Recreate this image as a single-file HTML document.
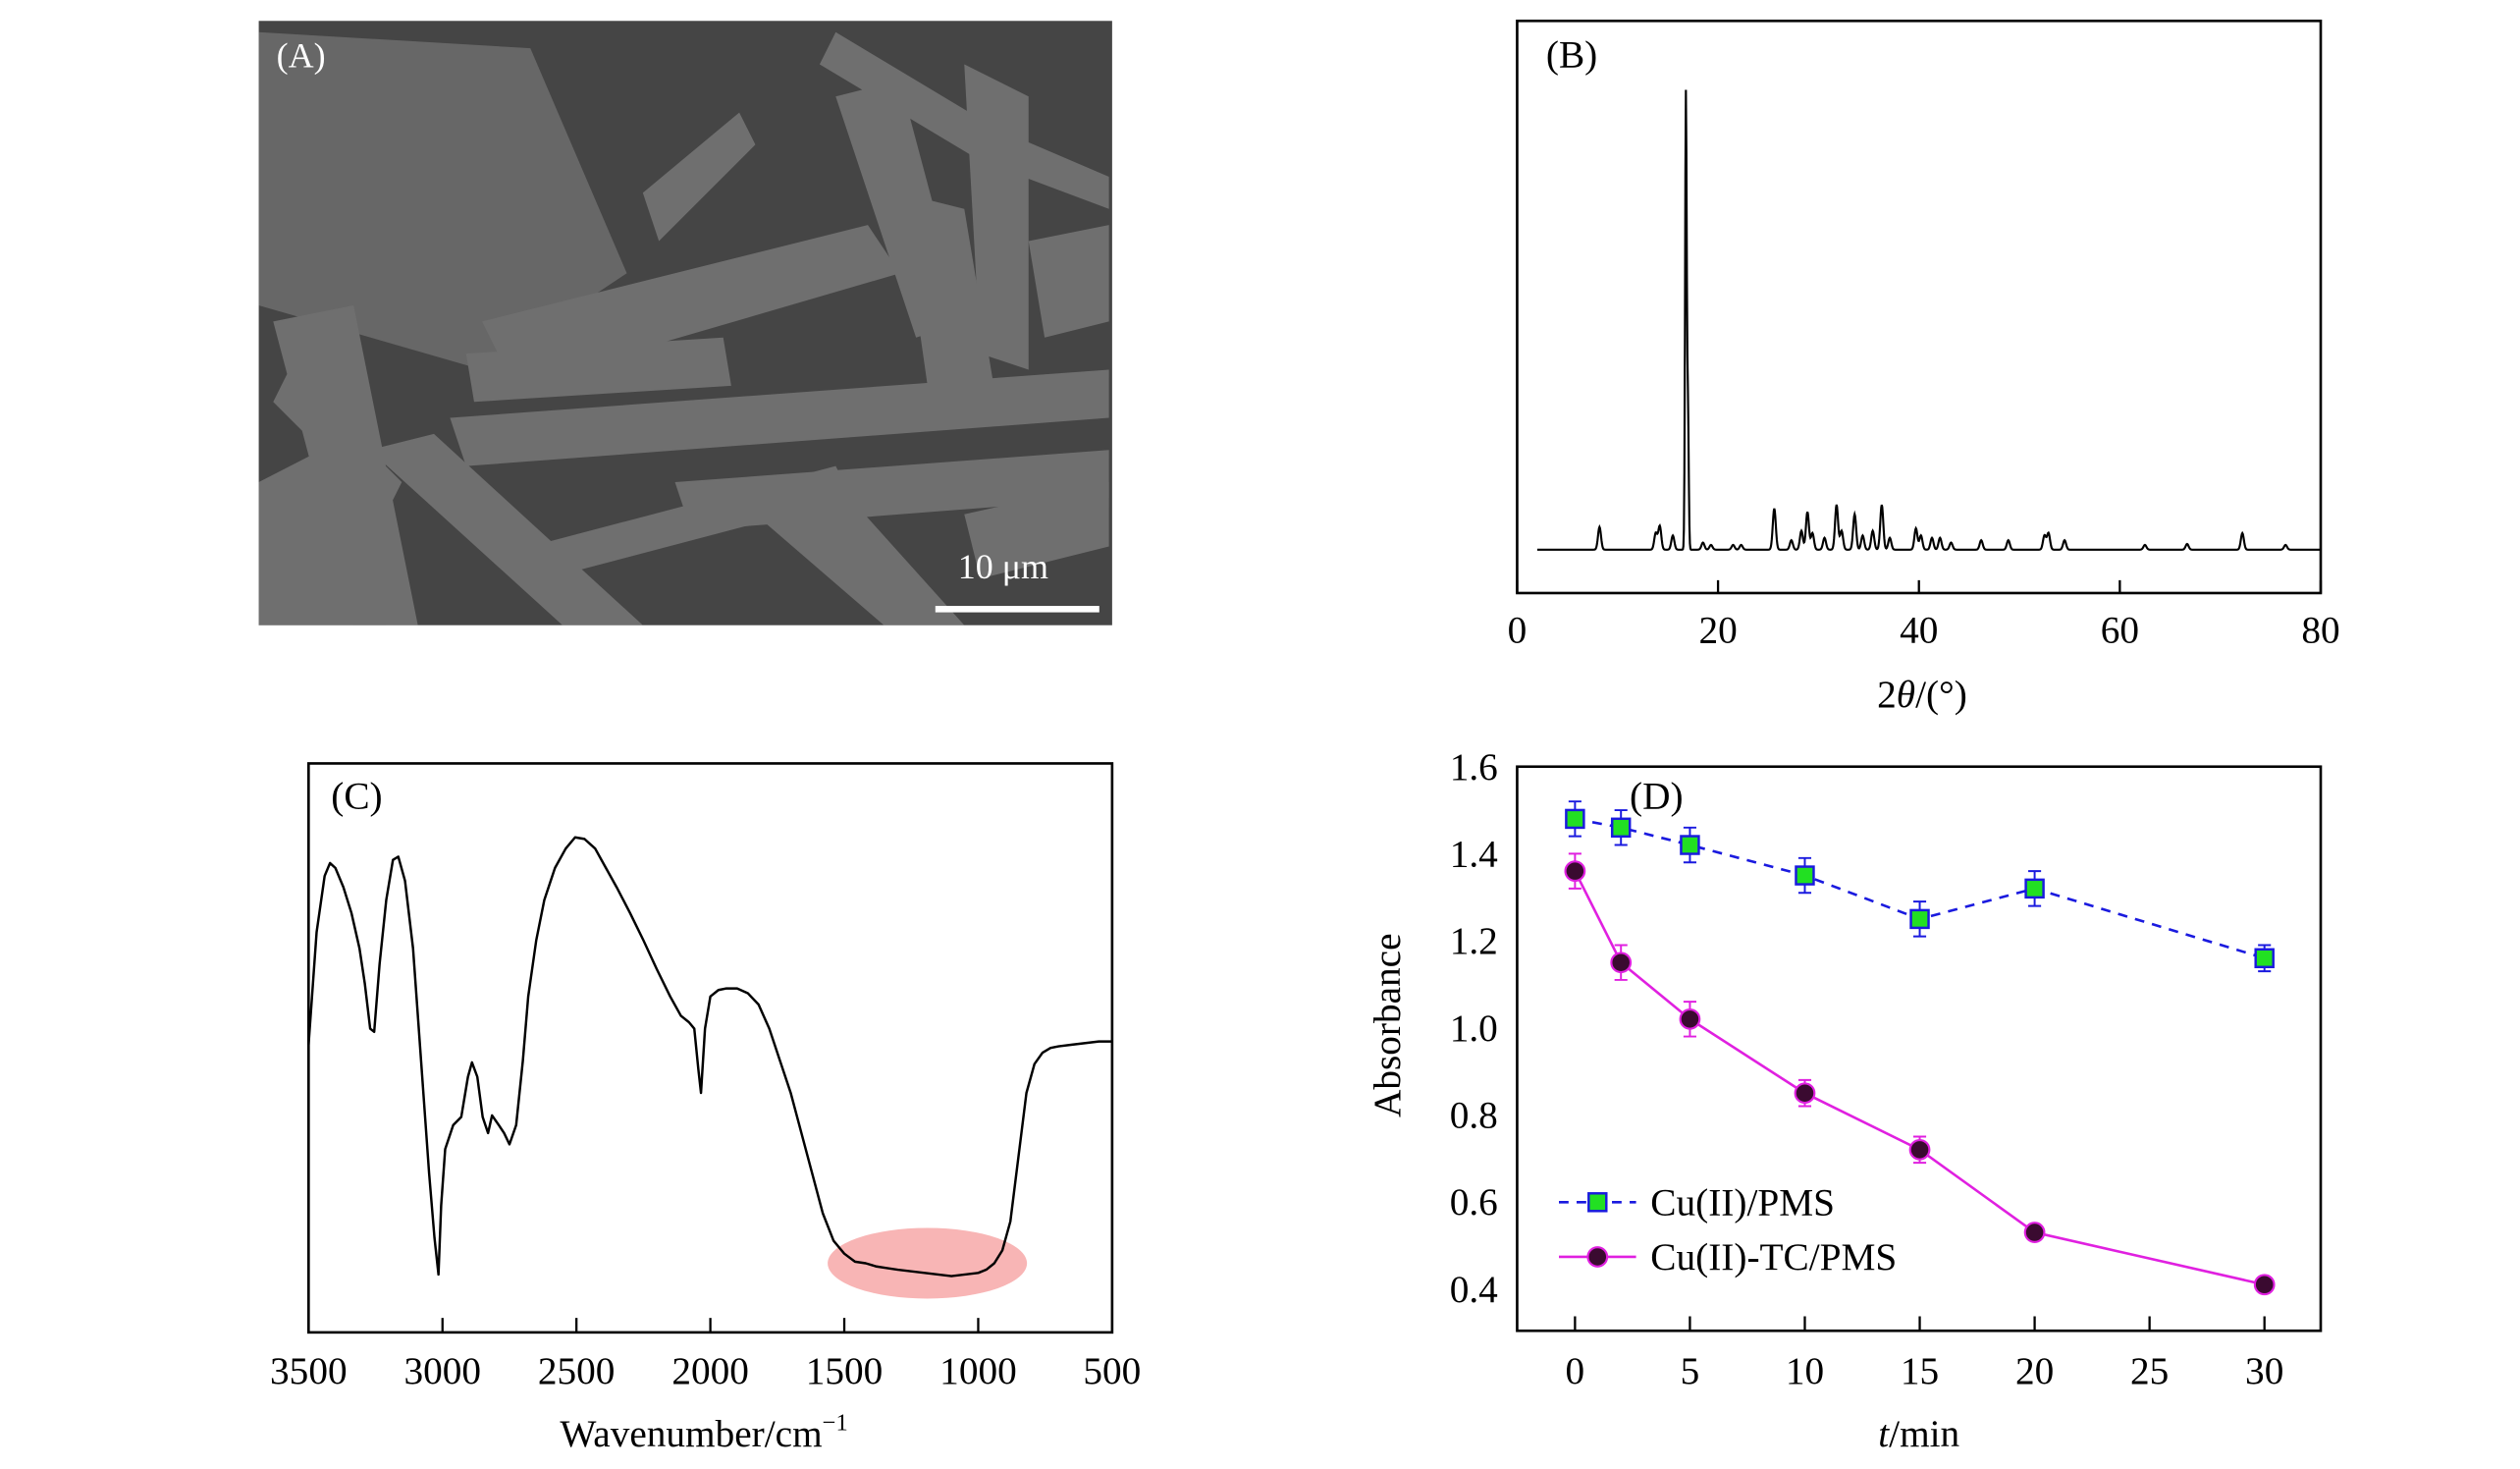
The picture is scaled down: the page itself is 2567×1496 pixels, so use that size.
<!DOCTYPE html>
<html><head><meta charset="utf-8"><style>
html,body{margin:0;padding:0;background:#fff;}
svg{display:block;font-family:"Liberation Serif",serif;}
</style></head><body>
<svg id="fig" width="2567" height="1496" viewBox="0 0 1568 914" preserveAspectRatio="none" xmlns="http://www.w3.org/2000/svg">
<g id="panelA">
  <rect x="161" y="13" width="531" height="376" fill="#454545"/>
  <g opacity="0.5" fill="#9a9a9a">
    <polygon points="161,20 330,30 390,170 300,230 161,190" fill="#8a8a8a"/>
    <polygon points="300,200 540,140 560,170 320,240"/>
    <polygon points="280,260 690,230 690,260 290,290"/>
    <polygon points="400,120 460,70 470,90 410,150"/>
    <polygon points="520,20 620,80 690,110 690,130 610,100 510,40"/>
    <polygon points="600,40 640,60 640,230 610,220"/>
    <polygon points="170,200 220,190 260,389 220,389"/>
    <polygon points="230,280 270,270 400,389 350,389"/>
    <polygon points="290,220 450,210 455,240 295,250"/>
    <polygon points="420,300 690,280 690,310 430,330"/>
    <polygon points="470,320 520,300 600,389 550,389"/>
    <polygon points="560,120 600,130 620,250 580,260"/>
    <polygon points="640,150 690,140 690,200 650,210"/>
    <polygon points="161,300 200,280 240,389 161,389"/>
    <polygon points="330,340 520,290 530,310 340,360"/>
    <polygon points="520,60 560,50 600,200 570,210"/>
    <polygon points="180,230 250,300 240,320 170,250"/>
    <polygon points="600,320 690,300 690,340 610,360"/>
  </g>
  <text x="172" y="42" font-size="22" fill="#fff">(A)</text>
  <text x="596" y="360" font-size="22" fill="#fff">10 μm</text>
  <rect x="582" y="377" width="102" height="4" fill="#fff"/>
</g>
<g id="panelB"></g>
<g id="panelC"></g>
<g id="panelD"></g>
</svg>
<script>
// ---- Panel B data (XRD) ----
const xrdPeakPos = [8.2,13.8,14.2,15.5,16.8,17.0,18.5,19.3,21.5,22.3,25.6,27.3,28.3,28.9,29.4,30.6,31.8,32.3,33.6,34.4,35.4,36.3,37.1,39.7,40.2,41.3,42.1,43.2,46.2,48.9,52.5,52.9,54.5,62.5,66.7,72.2,76.5];
const xrdPeakHeight = [4.8,3.5,5,3,96,30,1.5,1,1,1,8.7,2,4,8,3.5,2.5,9.5,4,7.5,3,4,9.5,2.5,4.5,3,2.5,2.5,1.5,2,2,3,3.5,2,1,1.2,3.5,1];
const xrdTicks = [0,20,40,60,80];
// ---- Panel C data (FTIR) ----
const irWavenumber = [3500,3470,3440,3420,3400,3370,3340,3310,3290,3270,3255,3235,3210,3185,3165,3140,3110,3080,3050,3030,3015,3005,2990,2960,2930,2905,2890,2870,2850,2830,2815,2790,2770,2750,2725,2700,2680,2650,2620,2580,2540,2505,2470,2430,2390,2350,2300,2250,2200,2150,2110,2080,2060,2045,2035,2020,2000,1970,1940,1900,1860,1820,1780,1740,1700,1660,1620,1580,1540,1500,1460,1420,1380,1340,1300,1250,1200,1150,1100,1050,1000,970,940,910,880,850,820,790,760,730,700,650,600,550,500];
const irSignal = [650,580,545,537,540,552,568,590,612,640,642,600,560,535,533,548,590,660,730,770,793,750,715,700,695,670,661,670,695,705,694,700,705,712,700,660,620,585,560,540,528,521,522,528,540,552,568,585,603,620,632,636,640,665,680,640,620,616,615,615,618,625,640,660,680,705,730,755,772,780,785,786,788,789,790,791,792,793,794,793,792,790,786,778,760,720,680,662,655,652,651,650,649,648,648];
const irTicks = [3500,3000,2500,2000,1500,1000,500];
// ---- Panel D data ----
const timeMin = [0,2,5,10,15,20,30];
const absPMS = [1.48,1.46,1.42,1.35,1.25,1.32,1.16];
const errPMS = [0.04,0.04,0.04,0.04,0.04,0.04,0.03];
const absTC = [1.36,1.15,1.02,0.85,0.72,0.53,0.41];
const errTC = [0.04,0.04,0.04,0.03,0.03,0.01,0.01];
const dXTicks = [0,5,10,15,20,25,30];
const dYTicks = [0.4,0.6,0.8,1.0,1.2,1.4,1.6];

const NS='http://www.w3.org/2000/svg';
function mk(tag,attrs,parent){const e=document.createElementNS(NS,tag);for(const k in attrs)e.setAttribute(k,attrs[k]);parent.appendChild(e);return e;}

// ---------- Panel B ----------
(function(){
  const g=document.getElementById('panelB');
  const L=944,R=1444,T=13,B=369;
  const xs=v=>L+(v-0)/80*(R-L);
  const base=342, unit=2.94;
  const ys=v=>base-v*unit;
  const frame=mk('rect',{x:L,y:T,width:R-L,height:B-T,fill:'none',stroke:'#000','stroke-width':1.6},g);
  
  
  xrdTicks.forEach(t=>{
    const tk=mk('line',{x1:xs(t),x2:xs(t),y1:B,y2:B-8,stroke:'#000','stroke-width':1.4},g);
    
    
    const tl=mk('text',{x:xs(t),y:400,'font-size':24,'text-anchor':'middle'},g);
    tl.textContent=t;
    
    
  });
  let d='';
  for(let a=2;a<=80.001;a+=0.05){
    let v=0;
    for(let i=0;i<xrdPeakPos.length;i++){const w=xrdPeakPos[i]>16&&xrdPeakPos[i]<17.5?0.08:0.15;const z=(a-xrdPeakPos[i])/w;v+=xrdPeakHeight[i]*Math.exp(-z*z/2);}
    d+=(d?'L':'M')+xs(a).toFixed(2)+','+ys(v).toFixed(2);
  }
  const p=mk('path',{d:d,fill:'none',stroke:'#000','stroke-width':1.3},g);
  
  
  const lb=mk('text',{x:962,y:42,'font-size':24},g);lb.textContent='(B)';
  
  
  const xt=mk('text',{x:1196,y:440,'font-size':24,'text-anchor':'middle'},g);
  xt.innerHTML='2<tspan font-style="italic">θ</tspan>/(°)';
  
  
})();

// ---------- Panel C ----------
(function(){
  const g=document.getElementById('panelC');
  const L=192,R=692,T=475,B=829;
  const xs=w=>L+(3500-w)/3000*(R-L);
  const el=mk('ellipse',{cx:577,cy:786,rx:62,ry:22,fill:'#f7a8a8',opacity:0.85},g);
  
  
  const frame=mk('rect',{x:L,y:T,width:R-L,height:B-T,fill:'none',stroke:'#000','stroke-width':1.6},g);
  
  
  irTicks.forEach(t=>{
    if(t!==3500&&t!==500){
      const tk=mk('line',{x1:xs(t),x2:xs(t),y1:B,y2:B-9,stroke:'#000','stroke-width':1.4},g);
      
      
    }
    const tl=mk('text',{x:xs(t),y:861,'font-size':24,'text-anchor':'middle'},g);
    tl.textContent=t;
    
    
  });
  let d='';
  irWavenumber.forEach((w,i)=>{d+=(i?'L':'M')+xs(w).toFixed(2)+','+irSignal[i];});
  const p=mk('path',{d:d,fill:'none',stroke:'#000','stroke-width':1.5,'stroke-linejoin':'round'},g);
  
  
  const lb=mk('text',{x:206,y:503,'font-size':24},g);lb.textContent='(C)';
  
  
  const xt=mk('text',{x:438,y:900,'font-size':24,'text-anchor':'middle'},g);
  xt.innerHTML='Wavenumber/cm<tspan font-size="15" dy="-10">−1</tspan>';
  
  
})();

// ---------- Panel D ----------
(function(){
  const g=document.getElementById('panelD');
  const L=944,R=1444,T=477,B=828;
  const xs=t=>980+t*(1409-980)/30;
  const ys=v=>477+(1.6-v)/1.2*(802-477);
  const frame=mk('rect',{x:L,y:T,width:R-L,height:B-T,fill:'none',stroke:'#000','stroke-width':1.6},g);
  
  
  dXTicks.forEach(t=>{
    const tk=mk('line',{x1:xs(t),x2:xs(t),y1:B,y2:B-9,stroke:'#000','stroke-width':1.4},g);
    
    
    const tl=mk('text',{x:xs(t),y:861,'font-size':24,'text-anchor':'middle'},g);
    tl.textContent=t;
    
    
  });
  dYTicks.forEach(v=>{
    const tl=mk('text',{x:932,y:ys(v)+8,'font-size':24,'text-anchor':'end'},g);
    tl.textContent=v.toFixed(1);
    
    
  });
  function series(vals,errs,color,dash,marker,name){
    const sg=mk('g',{},g);
    
    
    let d='';
    timeMin.forEach((t,i)=>{d+=(i?'L':'M')+xs(t)+','+ys(vals[i]);});
    const p=mk('path',{d:d,fill:'none',stroke:color==='pms'?'#1a1adf':'#e020e0','stroke-width':1.6,'stroke-dasharray':dash},sg);
    
    
    const ec=color==='pms'?'#1a1adf':'#e020e0';
    timeMin.forEach((t,i)=>{
      const x=xs(t),y1=ys(vals[i]+errs[i]),y2=ys(vals[i]-errs[i]);
      const eb=mk('path',{d:`M${x},${y1}V${y2}M${x-4},${y1}H${x+4}M${x-4},${y2}H${x+4}`,stroke:ec,'stroke-width':1.2,fill:'none'},sg);
      
      
      let m;
      if(marker==='sq'){m=mk('rect',{x:x-5.5,y:ys(vals[i])-5.5,width:11,height:11,fill:'#22e022',stroke:'#1a1adf','stroke-width':1.5},sg);}
      else{m=mk('circle',{cx:x,cy:ys(vals[i]),r:6,fill:'#3a0a30',stroke:'#e020e0','stroke-width':1.3},sg);}
      
      
    });
  }
  series(absPMS,errPMS,'pms','6,5','sq','cu-pms');
  series(absTC,errTC,'tc','none','ci','cu-tc-pms');
  const lg=mk('g',{},g);
  
  
  const l1=mk('line',{x1:970,x2:1018,y1:748,y2:748,stroke:'#1a1adf','stroke-width':1.6,'stroke-dasharray':'6,5'},lg);
  
  
  const m1=mk('rect',{x:988.5,y:742.5,width:11,height:11,fill:'#22e022',stroke:'#1a1adf','stroke-width':1.5},lg);
  
  
  const t1=mk('text',{x:1027,y:756,'font-size':24},lg);t1.textContent='Cu(II)/PMS';
  
  
  const l2=mk('line',{x1:970,x2:1018,y1:782,y2:782,stroke:'#e020e0','stroke-width':1.6},lg);
  
  
  const m2=mk('circle',{cx:994,cy:782,r:6,fill:'#3a0a30',stroke:'#e020e0','stroke-width':1.3},lg);
  
  
  const t2=mk('text',{x:1027,y:790,'font-size':24},lg);t2.textContent='Cu(II)-TC/PMS';
  
  
  const lb=mk('text',{x:1014,y:503,'font-size':24},g);lb.textContent='(D)';
  
  
  const xt=mk('text',{x:1194,y:900,'font-size':24,'text-anchor':'middle'},g);
  xt.innerHTML='<tspan font-style="italic">t</tspan>/min';
  
  
  const yt=mk('text',{x:0,y:0,'font-size':24,'text-anchor':'middle',transform:'translate(871,638) rotate(-90)'},g);
  yt.textContent='Absorbance';
  
  
})();
</script>
</body></html>
